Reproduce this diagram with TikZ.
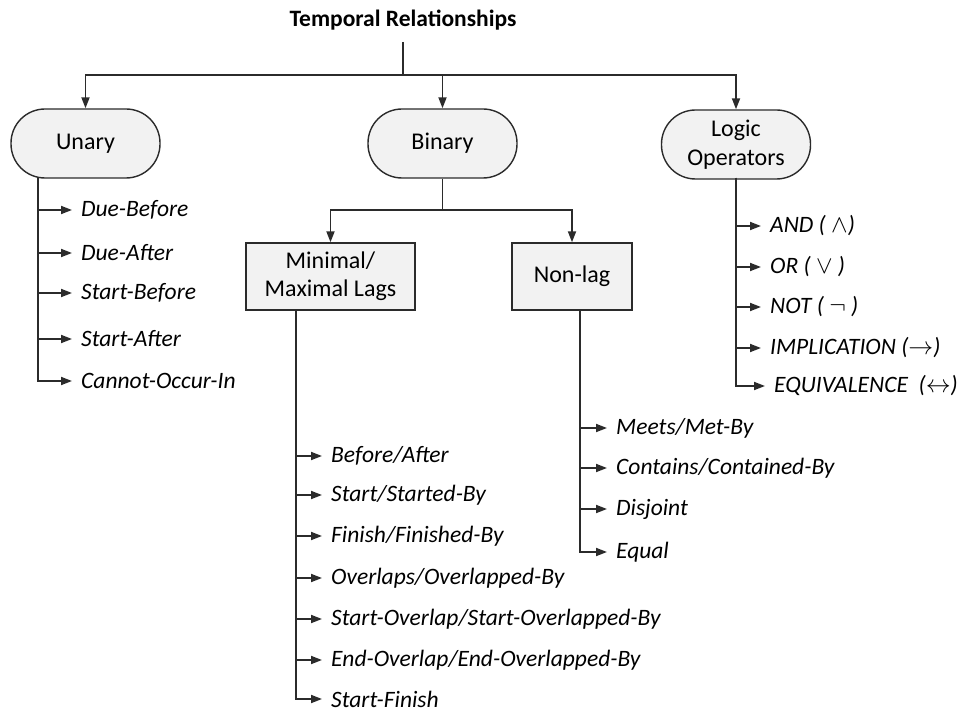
\documentclass[tikz,border=0pt]{standalone}
\usepackage{fontspec}
\setmainfont{Carlito}
\usetikzlibrary{arrows.meta}
\definecolor{linegray}{HTML}{2B2B2B}
\definecolor{boxfill}{HTML}{F2F2F2}
\begin{document}
\begin{tikzpicture}[x=1pt,y=-1pt,
  conn/.style={draw=linegray,line width=1.8pt},
  arr/.style={conn,-{Triangle[length=11pt,width=8pt]}},
  pill/.style={draw=linegray,fill=boxfill,line width=1.4pt,rounded corners=34pt,
    minimum width=149pt,minimum height=69pt,align=center,font=\fontsize{24}{29}\selectfont},
  catbox/.style={draw=linegray,fill=boxfill,line width=1.4pt,
    minimum height=67pt,align=center,font=\fontsize{24}{28}\selectfont},
  item/.style={anchor=west,inner xsep=9pt,inner ysep=1pt,font=\fontsize{23.5}{28}\selectfont\itshape},
  title/.style={font=\fontsize{23.5}{28}\selectfont\bfseries}]
\useasboundingbox (0,0) rectangle (966,711);

% root
\node[title] (root) at (403,20) {Temporal Relationships};
\coordinate (rootbus) at (403,75);

% first level
\node[pill] (unary) at (85.5,143.5) {Unary};
\node[pill] (binary) at (442.5,143.5) {Binary};
\node[pill] (logic) at (736,144.5) {Logic\\Operators};

\draw[conn] (403,42) -- (rootbus);
\draw[arr] (rootbus) -| (unary.north);
\draw[arr] (rootbus) -| (binary.north);
\draw[arr] (rootbus) -| (logic.north);

% binary categories
\node[catbox,minimum width=169pt] (lags) at (330.5,276.5) {Minimal/\\Maximal Lags};
\node[catbox,minimum width=120pt] (nonlag) at (572,276.5) {Non-lag};
\coordinate (binbus) at (442.5,210);
\draw[conn] (binary.south) -- (binbus);
\draw[arr] (binbus) -| (lags.north);
\draw[arr] (binbus) -| (nonlag.north);

% unary relations
\coordinate (uspine) at (38,178);
\node[item] (u1) at (72,210) {Due-Before};
\node[item] (u2) at (72,253) {Due-After};
\node[item] (u3) at (72,293) {Start-Before};
\node[item] (u4) at (72,339) {Start-After};
\node[item] (u5) at (72,381) {Cannot-Occur-In};
\foreach \n in {u1,u2,u3,u4,u5} \draw[arr] (uspine) |- (\n.west);

% lag relations
\coordinate (lspine) at (296,310);
\node[item] (l1) at (322,456) {Before/After};
\node[item] (l2) at (322,495) {Start/Started-By};
\node[item] (l3) at (322,536) {Finish/Finished-By};
\node[item] (l4) at (322,578) {Overlaps/Overlapped-By};
\node[item] (l5) at (322,619) {Start-Overlap/Start-Overlapped-By};
\node[item] (l6) at (322,660) {End-Overlap/End-Overlapped-By};
\node[item] (l7) at (322,699) {Start-Finish};
\foreach \n in {l1,l2,l3,l4,l5,l6,l7} \draw[arr] (lspine) |- (\n.west);

% non-lag relations
\coordinate (nspine) at (580,310);
\node[item] (n1) at (607,428) {Meets/Met-By};
\node[item] (n2) at (607,468) {Contains/Contained-By};
\node[item] (n3) at (607,509) {Disjoint};
\node[item] (n4) at (607,552) {Equal};
\foreach \n in {n1,n2,n3,n4} \draw[arr] (nspine) |- (\n.west);

% logic operators
\coordinate (ospine) at (736,178);
\node[item] (o1) at (761,226) {AND ( $\wedge$)};
\node[item] (o2) at (761,267) {OR ( $\vee$ )};
\node[item] (o3) at (761,307) {NOT ( $\neg$ )};
\node[item] (o4) at (761,348) {IMPLICATION ($\rightarrow$)};
\node[item] (o5) at (765,386) {EQUIVALENCE\ \ ($\leftrightarrow$)};
\foreach \n in {o1,o2,o3,o4,o5} \draw[arr] (ospine) |- (\n.west);
\end{tikzpicture}
\end{document}
